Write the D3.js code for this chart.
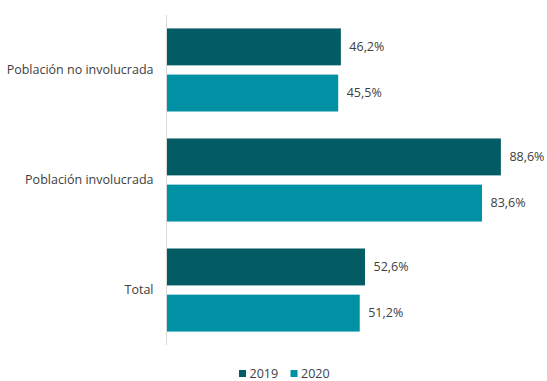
<!DOCTYPE html>
<html>
<head>
<meta charset="utf-8">
<script src="https://cdn.jsdelivr.net/npm/d3@7"></script>
<style>
  html, body { margin: 0; padding: 0; background: #fff; }
  svg { display: block; }
  text { font-family: "Open Sans", "Liberation Sans", sans-serif; fill: #404040; }
</style>
</head>
<body>
<svg id="chart" width="547" height="381"></svg>
<script>
// Share of population, by group and year (%)
const categories = ["Población no involucrada", "Población involucrada", "Total"];
const years = ["2019", "2020"];
const values2019 = [46.2, 88.6, 52.6];
const values2020 = [45.5, 83.6, 51.2];
const colors = ["#035B63", "#0091A5"];

const series = [values2019, values2020];
const fmt = v => d3.format(".1f")(v).replace(".", ",") + "%";

const svg = d3.select("#chart");
const width = 547, height = 381;
const margin = { top: 15, right: 3, bottom: 36, left: 166.5 };

const x = d3.scaleLinear()
  .domain([0, 100])
  .range([margin.left, margin.left + 377.4]);

const y = d3.scaleBand()
  .domain(categories)
  .range([margin.top, height - margin.bottom])
  .paddingInner(0.245)
  .paddingOuter(0.122);

const inner = d3.scaleBand()
  .domain(years)
  .range([0, y.bandwidth()])
  .paddingInner(0.2);

// Category bars
const groups = svg.append("g")
  .selectAll("g")
  .data(categories)
  .join("g")
  .attr("transform", d => `translate(0,${y(d)})`);

groups.selectAll("rect")
  .data((d, i) => years.map((yr, k) => ({ yr, v: series[k][i], k })))
  .join("rect")
  .attr("x", x(0))
  .attr("y", d => inner(d.yr))
  .attr("width", d => x(d.v) - x(0))
  .attr("height", inner.bandwidth())
  .attr("fill", d => colors[d.k]);

groups.selectAll("text.value")
  .data((d, i) => years.map((yr, k) => ({ yr, v: series[k][i], k })))
  .join("text")
  .attr("class", "value")
  .attr("x", d => x(d.v) + 8.5)
  .attr("y", d => inner(d.yr) + inner.bandwidth() / 2)
  .attr("dy", "0.35em")
  .attr("font-size", 12.5)
  .text(d => fmt(d.v));

// Category axis
const axis = svg.append("g")
  .attr("transform", `translate(${x(0)},0)`)
  .call(d3.axisLeft(y).tickSize(0).tickPadding(13));
axis.select(".domain")
  .attr("stroke", "#D9D9D9")
  .attr("d", `M0,${margin.top}V${height - margin.bottom}`);
axis.selectAll("text")
  .attr("font-size", 12.5)
  .attr("font-family", "Open Sans, sans-serif")
  .attr("fill", "#404040");

// Legend
const legend = svg.append("g").attr("transform", "translate(239,378)");
const items = legend.selectAll("g")
  .data(years)
  .join("g")
  .attr("transform", (d, i) => `translate(${i * 51.5},0)`);
items.append("rect")
  .attr("x", 0).attr("y", -8)
  .attr("width", 7).attr("height", 7)
  .attr("fill", (d, i) => colors[i]);
items.append("text")
  .attr("x", 10.5).attr("y", 0)
  .attr("font-size", 12.5)
  .text(d => d);
</script>
</body>
</html>
